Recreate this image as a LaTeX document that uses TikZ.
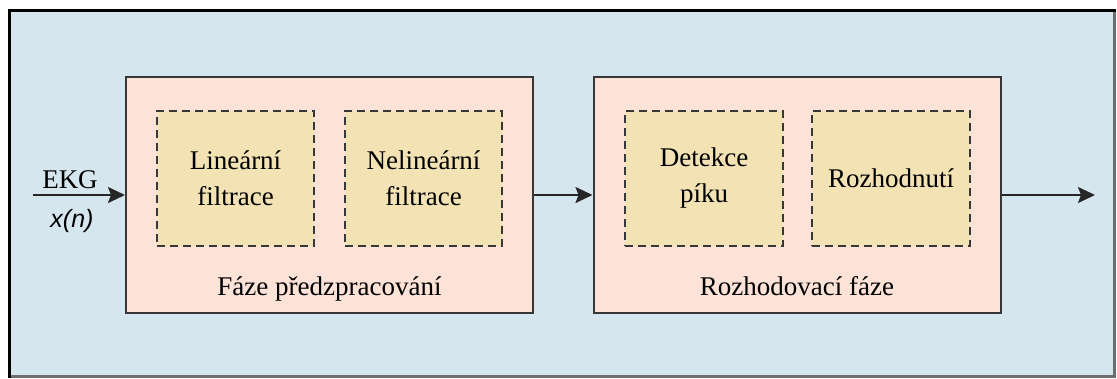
\documentclass[tikz,border=0pt]{standalone}
\usepackage{fontspec}
\setmainfont{Liberation Serif}
\newfontfamily\signalfont{Liberation Sans}
\usetikzlibrary{arrows.meta}
\definecolor{panelbg}{RGB}{214,230,239}
\definecolor{stagefill}{RGB}{253,227,215}
\definecolor{blockfill}{RGB}{242,226,180}
\definecolor{edge}{RGB}{55,55,55}
\definecolor{framegray}{RGB}{110,110,110}

\begin{document}
\begin{tikzpicture}[x=1pt,y=-1pt,
  stage/.style={draw=edge,line width=2pt,fill=stagefill,minimum width=407pt,
    minimum height=236pt,inner sep=0pt},
  block/.style={draw=edge,line width=2pt,dash pattern=on 8pt off 5pt,fill=blockfill,
    minimum height=135pt,inner sep=0pt,align=center,
    font=\fontsize{27}{36}\selectfont},
  caption/.style={anchor=base,inner sep=0pt,font=\fontsize{27}{32}\selectfont},
  flow/.style={line width=2pt,draw=black!85,
    -{Stealth[length=17pt,width=16pt,inset=3pt]}}]

  \useasboundingbox (0,0) rectangle (1117,378);

  % outer panel
  \fill[panelbg] (9,10) rectangle (1114,376);
  \draw[framegray,line width=3pt] (1114,10) -- (1114,376) -- (9,376);
  \draw[black,line width=3pt] (9,377.5) -- (9,10) -- (1115.5,10);

  % processing stages
  \node[stage] (s1) at (329.5,195) {};
  \node[stage] (s2) at (797,195) {};

  % sub-blocks
  \node[block,minimum width=157pt] (lin) at (235.5,178.5) {Lineární\\filtrace};
  \node[block,minimum width=157pt] (nlin) at (423.5,178.5) {Nelineární\\filtrace};
  \node[block,minimum width=158pt] (det) at (704,178.5) {Detekce\\píku};
  \node[block,minimum width=158pt] (dec) at (891,178.5) {Rozhodnutí};

  % stage captions
  \node[caption] (c1) at (329.5,295) {Fáze předzpracování};
  \node[caption] (c2) at (797,295) {Rozhodovací fáze};

  % input signal labels
  \node[caption] (ekg) at (70,188) {EKG};
  \node[inner sep=0pt,font=\signalfont\itshape\fontsize{25}{30}\selectfont] (xn) at (72,221) {x(n)};

  % signal flow
  \coordinate (in) at (33,195);
  \coordinate (out) at (1095,195);
  \draw[flow] (in) -- (s1.west);
  \draw[flow] (s1.east) -- (s2.west);
  \draw[flow] (s2.east) -- (out);
\end{tikzpicture}
\end{document}
